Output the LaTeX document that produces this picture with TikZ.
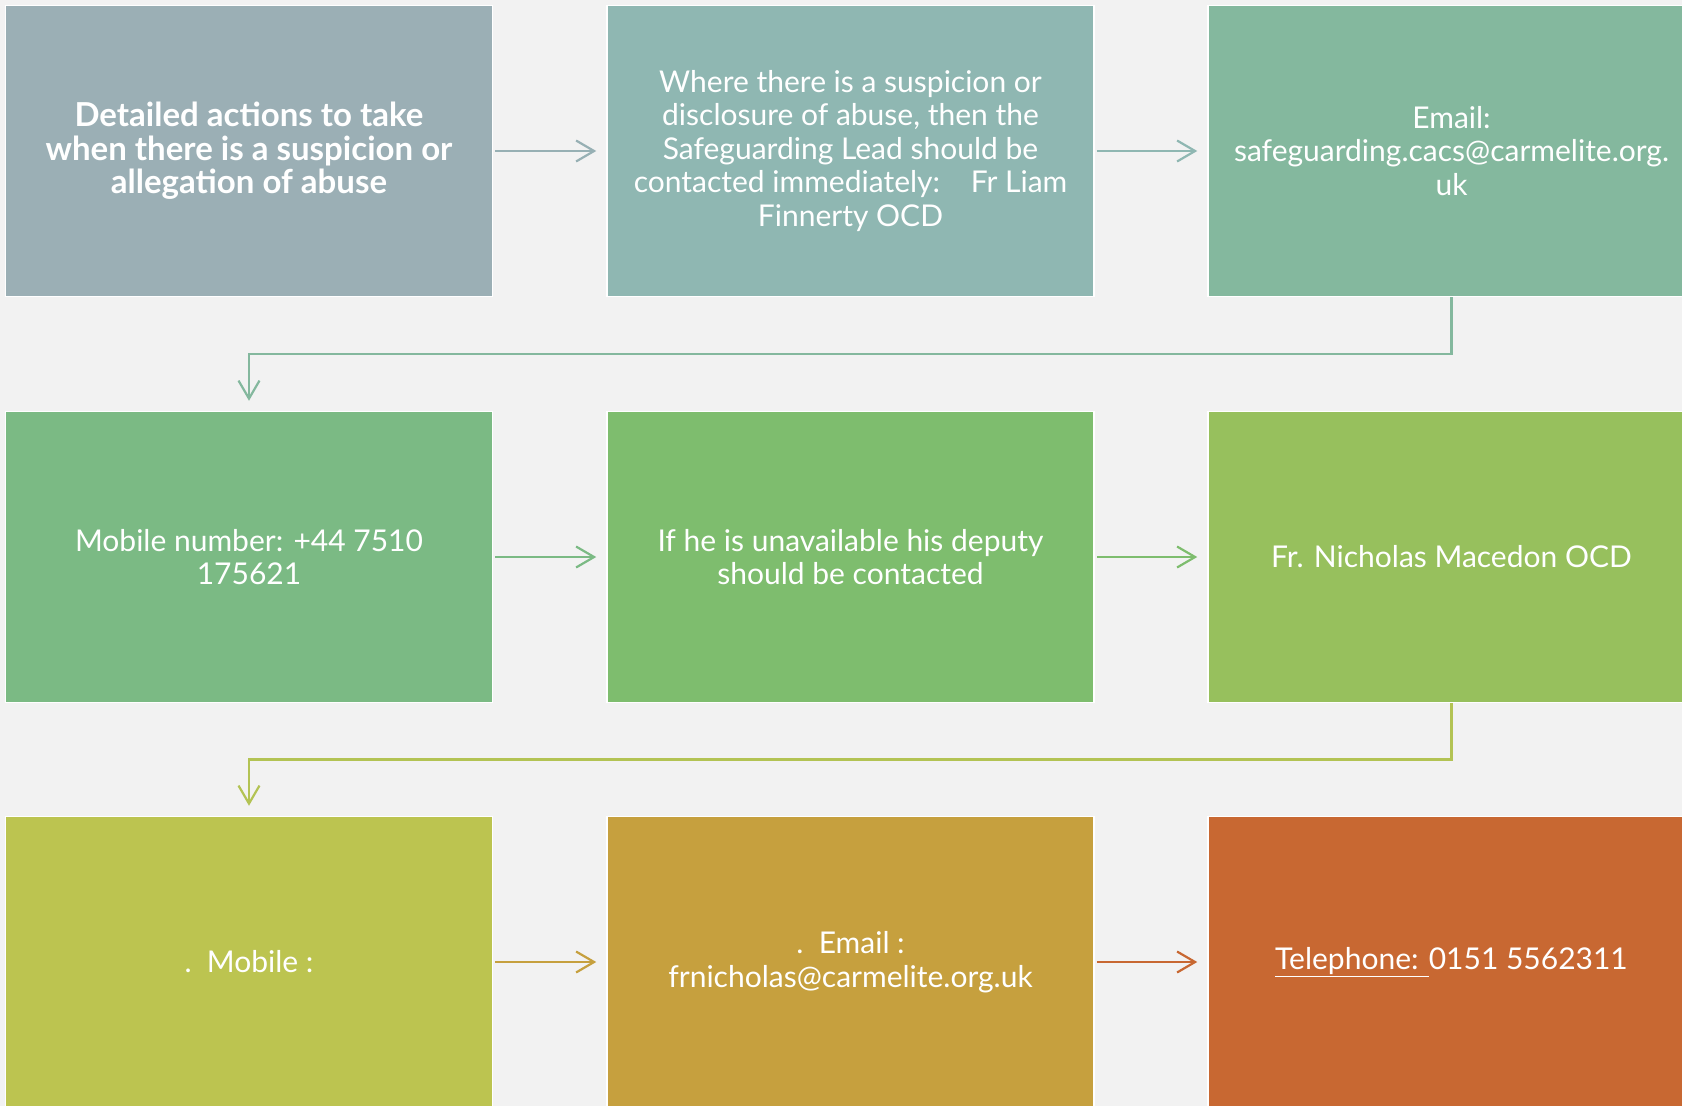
\documentclass[tikz,border=0pt]{standalone}
\usepackage{fontspec}
\setmainfont{Lato}
\usetikzlibrary{arrows.meta,calc}
\definecolor{bg}{HTML}{F2F2F2}
\definecolor{cA}{HTML}{9BAFB5}
\definecolor{cB}{HTML}{8FB7B2}
\definecolor{cC}{HTML}{84B89E}
\definecolor{cD}{HTML}{7BBA84}
\definecolor{cE}{HTML}{7EBD6E}
\definecolor{cF}{HTML}{97C05D}
\definecolor{cG}{HTML}{BCC450}
\definecolor{cH}{HTML}{C6A03E}
\definecolor{cI}{HTML}{C86832}
\definecolor{aA}{HTML}{97B0B4}
\definecolor{aG}{HTML}{B3C354}
\tikzset{
  stepbox/.style={draw=white, line width=1.5pt, minimum width=487pt, minimum height=291pt,
    inner sep=0pt, align=center, text=white,
    font=\fontsize{30}{33.5}\selectfont},
  flow/.style={line width=2.2pt, -{Straight Barb[length=18pt,width=21pt,line width=2.2pt]},
    shorten >=10pt, shorten <=2pt},
}
\begin{document}
\begin{tikzpicture}[x=1pt,y=-1pt]
\fill[bg] (0,0) rectangle (1682,1106);
\useasboundingbox (0,0) rectangle (1682,1106);
\node[stepbox, fill=cA, font=\fontsize{33}{33.5}\selectfont\bfseries] (b1) at (249,151) {Detailed actions to take\\when there is a suspicion or\\allegation of abuse};
\node[stepbox, fill=cB] (b2) at (850.5,151) {Where there is a suspicion or\\disclosure of abuse, then the\\Safeguarding Lead should be\\contacted immediately:\ \ \ \ Fr Liam\\Finnerty OCD};
\node[stepbox, fill=cC] (b3) at (1451.5,151) {Email:\\safeguarding.cacs@carmelite.org.\\uk};
\node[stepbox, fill=cD] (b4) at (249,557) {Mobile number: +44 7510\\175621};
\node[stepbox, fill=cE] (b5) at (850.5,557) {If he is unavailable his deputy\\should be contacted};
\node[stepbox, fill=cF] (b6) at (1451.5,557) {Fr. Nicholas Macedon OCD};
\node[stepbox, fill=cG] (b7) at (249,962) {.\ \ Mobile :};
\node[stepbox, fill=cH] (b8) at (850.5,962) {.\ \ Email :\\frnicholas@carmelite.org.uk};
\node[stepbox, fill=cI] (b9) at (1451.5,962) {\underline{Telephone: }0151 5562311};
\draw[flow, aA] (b1) -- (b2);
\draw[flow, cB] (b2) -- (b3);
\draw[flow, cC, shorten <=0pt] (b3.south) -- ($(b3.south)!.5!(b3.south|-b4.north)$) -| (b4.north);
\draw[flow, cD] (b4) -- (b5);
\draw[flow, cE] (b5) -- (b6);
\draw[flow, aG, shorten <=0pt] (b6.south) -- ($(b6.south)!.5!(b6.south|-b7.north)$) -| (b7.north);
\draw[flow, cH] (b7) -- (b8);
\draw[flow, cI] (b8) -- (b9);
\end{tikzpicture}
\end{document}
